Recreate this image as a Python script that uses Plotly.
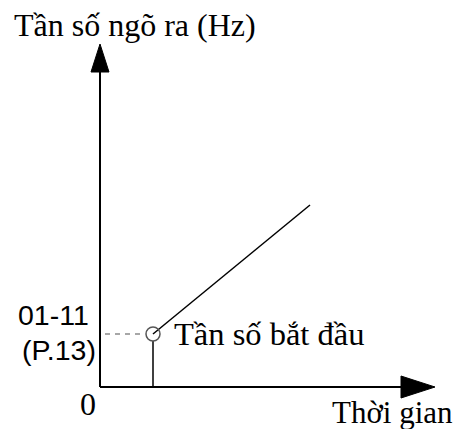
import plotly.graph_objects as go

# values (origin of the axes = 0, arbitrary units)
start_time = 53
start_freq = 53
ramp_time = [53, 210]
ramp_freq = [53, 182]
time_axis_end = 335
freq_axis_end = 343

title_y = "Tần số ngõ ra (Hz)"
title_x = "Thời gian"
start_label = "Tần số bắt đầu"
freq_ticks = ["01-11", "(P.13)"]
origin_label = "0"

serif = "Liberation Serif, Times New Roman, serif"
sans = "Liberation Sans, Arial, sans-serif"

fig = go.Figure()

# axes with arrow heads
fig.add_trace(go.Scatter(x=[0, time_axis_end - 30], y=[0, 0], mode="lines",
                         line=dict(color="black", width=2)))
fig.add_trace(go.Scatter(x=[0, 0], y=[0, freq_axis_end - 25], mode="lines",
                         line=dict(color="black", width=2)))
fig.add_trace(go.Scatter(x=[time_axis_end, time_axis_end - 34, time_axis_end - 34, time_axis_end],
                         y=[0, 11, -11, 0], mode="lines", fill="toself",
                         fillcolor="black", line=dict(color="black", width=1)))
fig.add_trace(go.Scatter(x=[0, -9, 9, 0],
                         y=[freq_axis_end, freq_axis_end - 28, freq_axis_end - 28, freq_axis_end],
                         mode="lines", fill="toself",
                         fillcolor="black", line=dict(color="black", width=1)))

# dashed guide to the frequency axis
fig.add_trace(go.Scatter(x=[5, start_time - 8], y=[start_freq, start_freq], mode="lines",
                         line=dict(color="#8a8a8a", width=1.5, dash="5px,5px")))
# vertical drop at start time
fig.add_trace(go.Scatter(x=[start_time, start_time], y=[0, start_freq - 7], mode="lines",
                         line=dict(color="black", width=1.5)))
# ramp
fig.add_trace(go.Scatter(x=ramp_time, y=ramp_freq, mode="lines",
                         line=dict(color="black", width=1.5)))
# start point marker
fig.add_trace(go.Scatter(x=[start_time], y=[start_freq], mode="markers",
                         marker=dict(symbol="circle-open", size=14,
                                     color="#555555", line=dict(width=1.5))))

ann = [
    dict(text=title_y, x=-88, y=362, xanchor="left", yanchor="middle",
         font=dict(family=serif, size=32, color="black")),
    dict(text=freq_ticks[0], x=-9, y=72, xanchor="right", yanchor="middle",
         font=dict(family=sans, size=28.5, color="black")),
    dict(text=freq_ticks[1], x=-2, y=37, xanchor="right", yanchor="middle",
         font=dict(family=sans, size=28.5, color="black")),
    dict(text=origin_label, x=-12, y=-17, xanchor="center", yanchor="middle",
         font=dict(family=serif, size=32, color="black")),
    dict(text=start_label, x=72, y=53, xanchor="left", yanchor="middle",
         font=dict(family=serif, size=32.5, color="black")),
    dict(text=title_x, x=230, y=-25, xanchor="left", yanchor="middle",
         font=dict(family=serif, size=31, color="black")),
]
for a in ann:
    fig.add_annotation(xref="x", yref="y", showarrow=False, **a)

# page body adds an 8px margin, so the figure is 8px smaller and shifted
fig.update_layout(
    width=453, height=421,
    margin=dict(l=0, r=0, t=0, b=0),
    paper_bgcolor="white", plot_bgcolor="white",
    showlegend=False,
    xaxis=dict(range=[-92, 361], visible=False, fixedrange=True),
    yaxis=dict(range=[-42, 379], visible=False, fixedrange=True),
)

fig.write_html("out.html")
